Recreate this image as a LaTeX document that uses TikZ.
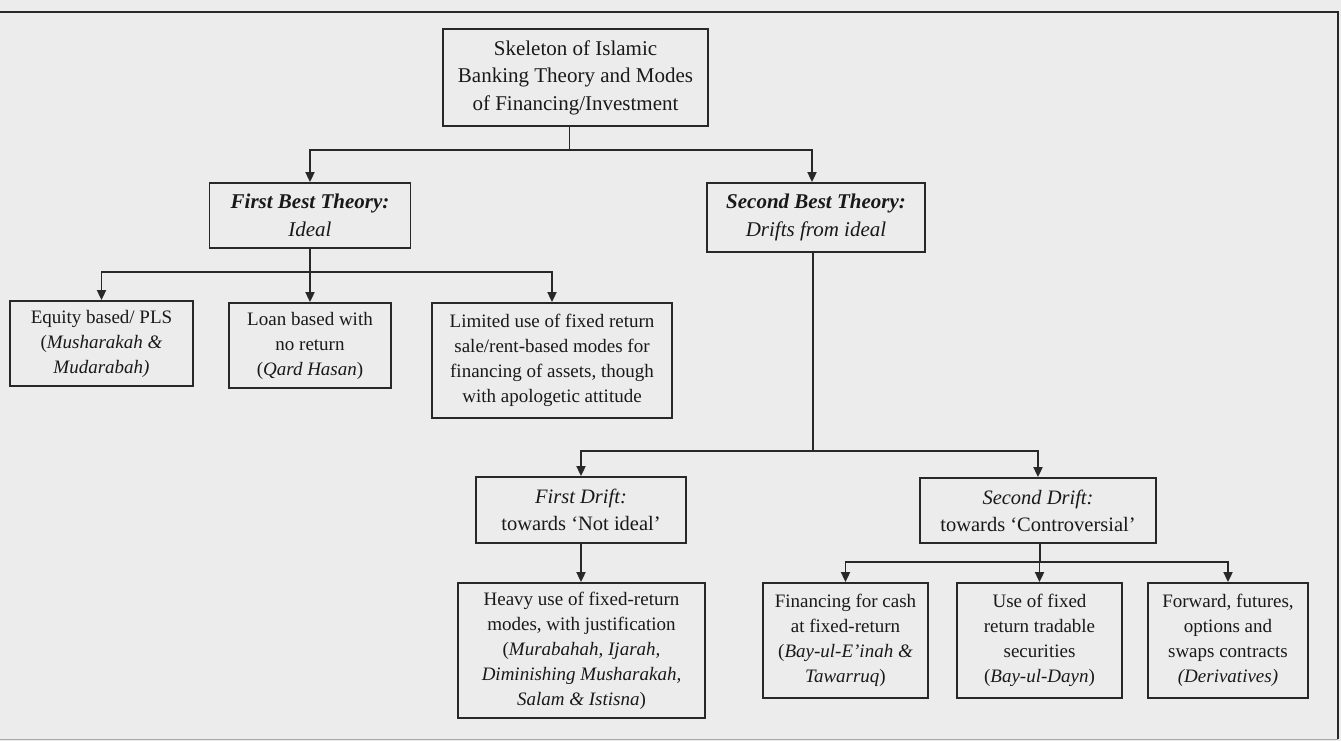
\documentclass[tikz,border=0pt]{standalone}
\usepackage{fontspec}
\setmainfont{Liberation Serif}
\usetikzlibrary{arrows.meta,calc}
\definecolor{bg}{RGB}{236,236,236}
\definecolor{ink}{RGB}{40,40,40}
\definecolor{txt}{RGB}{25,25,25}
\tikzset{
  box/.style 2 args={draw=ink, line width=1.8pt, align=center, inner sep=0pt,
    minimum width=#1, minimum height=#2, text=txt},
  big/.style={font=\fontsize{21}{27.5}\selectfont},
  mid/.style={font=\fontsize{20.5}{27}\selectfont},
  small/.style={font=\fontsize{19}{25}\selectfont},
  link/.style={draw=ink, line width=1.8pt},
  arr/.style={link, -{Triangle[length=10pt,width=9pt]}},
}
\begin{document}
\begin{tikzpicture}[x=1pt,y=-1pt]
\useasboundingbox (0,0) rectangle (1341,741);
\fill[bg] (0,0) rectangle (1341,741);
\draw[ink, line width=1.8pt] (0,12) -- (1338,12) -- (1338,739);
\draw[ink!40, line width=1pt] (1338,739) -- (0,739);

% top
\node[box={265pt}{97pt}, big] (skel) at (575.5,77.5)
  {Skeleton of Islamic\\Banking Theory and Modes\\of Financing/Investment};
\node[box={201pt}{65pt}, big] (fb) at (310,215.5)
  {\textbf{\textit{First Best Theory:}}\\\textit{Ideal}};
\node[box={218pt}{69pt}, big] (sb) at (816,217.5)
  {\textbf{\textit{Second Best Theory:}}\\\textit{Drifts from ideal}};

% first best children
\node[box={183pt}{85pt}, small] (eq) at (101.5,343.5)
  {Equity based/ PLS\\(\textit{Musharakah \&}\\\textit{Mudarabah)}};
\node[box={162pt}{85pt}, small] (loan) at (310,345.5)
  {Loan based with\\no return\\(\textit{Qard Hasan})};
\node[box={240pt}{115pt}, small] (lim) at (552,360.5)
  {Limited use of fixed return\\sale/rent-based modes for\\financing of assets, though\\with apologetic attitude};

% drifts
\node[box={210pt}{66pt}, mid] (fd) at (581,510)
  {\textit{First Drift:}\\towards ‘Not ideal’};
\node[box={236pt}{65pt}, mid] (sd) at (1038,510.5)
  {\textit{Second Drift:}\\towards ‘Controversial’};

% drift children
\node[box={247pt}{135pt}, small] (heavy) at (581.5,650.5)
  {Heavy use of fixed-return\\modes, with justification\\(\textit{Murabahah, Ijarah,}\\\textit{Diminishing Musharakah,}\\\textit{Salam \& Istisna})};
\node[box={165pt}{115pt}, small] (fin) at (845.5,640.5)
  {Financing for cash\\at fixed-return\\(\textit{Bay-ul-E’inah \&}\\\textit{Tawarruq})};
\node[box={165pt}{115pt}, small] (use) at (1039.5,640.5)
  {Use of fixed\\return tradable\\securities\\(\textit{Bay-ul-Dayn})};
\node[box={160pt}{115pt}, small] (fwd) at (1228,640.5)
  {Forward, futures,\\options and\\swaps contracts\\\textit{(Derivatives)}};

% junction coordinates
\coordinate (j1) at ($(skel.south)+(-6,23)$);
\coordinate (j2) at ($(fb.south)+(0,23)$);
\coordinate (j3) at ($(sb.south)+(-3,198)$);
\coordinate (j4) at ($(sd.south)+(2,18)$);

% connectors
\draw[link] (skel.south -| j1) -- (j1);
\draw[arr] (j1) -| (fb.north);
\draw[arr] (j1) -| ($(sb.north)+(-4,0)$);

\draw[link] (fb.south) -- (j2);
\draw[arr] (j2) -| (eq.north);
\draw[arr] (j2) -- (loan.north);
\draw[arr] (j2) -| (lim.north);

\draw[link] (sb.south -| j3) -- (j3);
\draw[arr] (j3) -| (fd.north);
\draw[arr] (j3) -| (sd.north);

\draw[arr] (fd.south) -- (heavy.north -| fd.south);

\draw[link] (sd.south -| j4) -- (j4);
\draw[arr] (j4) -| (fin.north);
\draw[arr] (j4) -| (use.north);
\draw[arr] (j4) -| (fwd.north);
\end{tikzpicture}
\end{document}
